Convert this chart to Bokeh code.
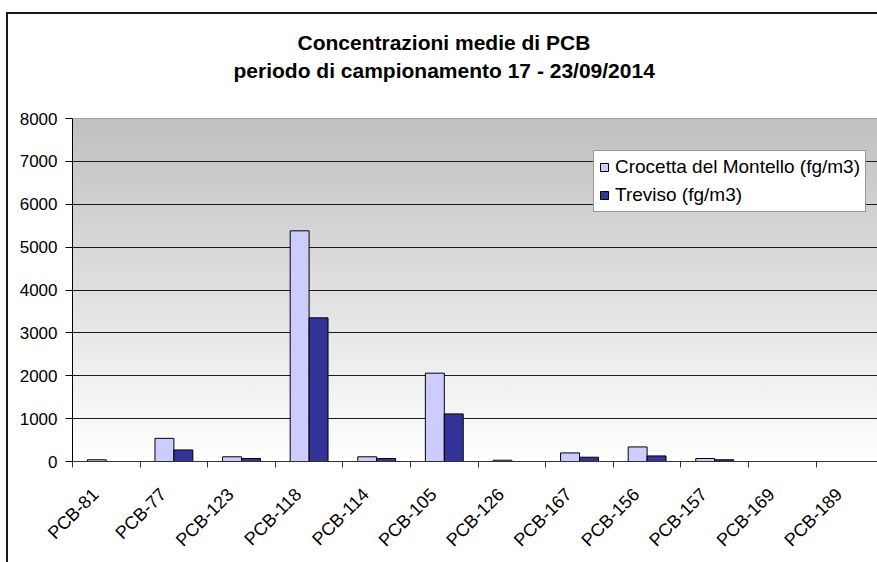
import math
from bokeh.plotting import figure
from bokeh.models import (Range1d, FixedTicker, CustomJSTickFormatter, ColumnDataSource,
                          Title, Span)
from bokeh.embed import file_html
from bokeh.resources import INLINE

categories = ["PCB-81", "PCB-77", "PCB-123", "PCB-118", "PCB-114", "PCB-105",
              "PCB-126", "PCB-167", "PCB-156", "PCB-157", "PCB-169", "PCB-189"]
crocetta = [40, 540, 110, 5380, 110, 2060, 30, 200, 340, 70, 0, 0]
treviso = [0, 270, 70, 3350, 70, 1110, 0, 100, 130, 40, 0, 0]
series_names = ["Crocetta del Montello (fg/m3)", "Treviso (fg/m3)"]
y_ticks = [0, 1000, 2000, 3000, 4000, 5000, 6000, 7000, 8000]
title_line1 = "Concentrazioni medie di PCB"
title_line2 = "periodo di campionamento 17 - 23/09/2014"

W, H = 877, 562
LEFT, TOP, BOTTOM = 72, 118, 101
FW, FH = W - LEFT, H - TOP - BOTTOM
CAT_PX = 67.6

centers = [i + 0.5 for i in range(len(categories))]
src = ColumnDataSource(dict(
    x1=[c - 0.14 for c in centers], x2=[c + 0.14 for c in centers],
    a=crocetta, b=treviso))

p = figure(width=W, height=H, output_backend="svg", toolbar_location=None,
           x_range=Range1d(0, FW / CAT_PX), y_range=Range1d(0, 8000),
           min_border_left=LEFT, min_border_top=TOP, min_border_bottom=BOTTOM,
           min_border_right=0)
p.background_fill_color = None
p.border_fill_color = None
p.outline_line_color = None

p.styles = {
    "background": (
        "linear-gradient(#1a1a1a,#1a1a1a) 7px 12px / 100% 2px no-repeat, "
        "linear-gradient(#1a1a1a,#1a1a1a) 6px 12px / 2px 100% no-repeat, "
        f"linear-gradient(to bottom, #c0c0c0, #ffffff) {LEFT}px {TOP}px / {FW}px {FH}px no-repeat, "
        "#ffffff"
    )
}

FONT = "Liberation Sans"

# titles (added nearest first): spacer, line 2, line 1
spacer = Title(text=" ", text_font_size="1px", standoff=34)
t2 = Title(text=title_line2, align="left", text_font=FONT, text_font_size="21px",
           text_font_style="bold", text_color="#000000", offset=161, standoff=0)
t1 = Title(text=title_line1, align="left", text_font=FONT, text_font_size="21px",
           text_font_style="bold", text_color="#000000", offset=225, standoff=6)
p.add_layout(spacer, "above")
p.add_layout(t2, "above")
p.add_layout(t1, "above")

# grid
p.xgrid.visible = False
p.ygrid.ticker = FixedTicker(ticks=y_ticks[1:-1])
p.ygrid.grid_line_color = "#1a1a1a"
p.ygrid.grid_line_width = 1
p.add_layout(Span(location=y_ticks[-1], dimension="width", line_color="#8c8c8c", line_width=1))

r1 = p.vbar(x="x1", top="a", width=0.28, source=src, fill_color="#CCCCFF",
            line_color="#000000", line_width=1, legend_label=series_names[0])
r2 = p.vbar(x="x2", top="b", width=0.28, source=src, fill_color="#333399",
            line_color="#000000", line_width=1, legend_label=series_names[1])

# y axis
p.yaxis.ticker = FixedTicker(ticks=y_ticks)
p.yaxis.axis_line_color = "#000000"
p.yaxis.major_tick_line_color = "#000000"
p.yaxis.major_tick_out = 7
p.yaxis.major_tick_in = 0
p.yaxis.minor_tick_line_color = None
p.yaxis.major_label_text_font = FONT
p.yaxis.major_label_text_font_size = "17px"
p.yaxis.major_label_text_color = "#000000"
p.yaxis.major_label_standoff = 8

# x axis: labels slightly left of category centre, ticks at category boundaries
p.xaxis.ticker = FixedTicker(ticks=[c - 0.16 for c in centers],
                             minor_ticks=list(range(len(categories) + 1)))
p.xaxis.formatter = CustomJSTickFormatter(
    args=dict(labels=categories),
    code="const i = Math.floor(tick); return (i >= 0 && i < labels.length) ? labels[i] : '';")
p.xaxis.axis_line_color = "#333333"
p.xaxis.major_tick_line_color = None
p.xaxis.minor_tick_line_color = "#333333"
p.xaxis.minor_tick_out = 6
p.xaxis.minor_tick_in = 0
p.xaxis.major_label_orientation = math.pi / 4
p.xaxis.major_label_text_font = FONT
p.xaxis.major_label_text_font_size = "18px"
p.xaxis.major_label_text_color = "#000000"
p.xaxis.major_label_standoff = 24

# legend
lg = p.legend[0]
lg.location = (521, 249)
lg.background_fill_color = "#ffffff"
lg.background_fill_alpha = 1
lg.border_line_color = "#333333"
lg.border_line_width = 1
lg.label_text_font = FONT
lg.label_text_font_size = "19px"
lg.label_text_color = "#000000"
lg.glyph_width = 10
lg.glyph_height = 10
lg.label_height = 20
lg.label_standoff = 6
lg.spacing = 6
lg.padding = 5
lg.margin = 0

open("out.html", "w").write(file_html(p, INLINE))
